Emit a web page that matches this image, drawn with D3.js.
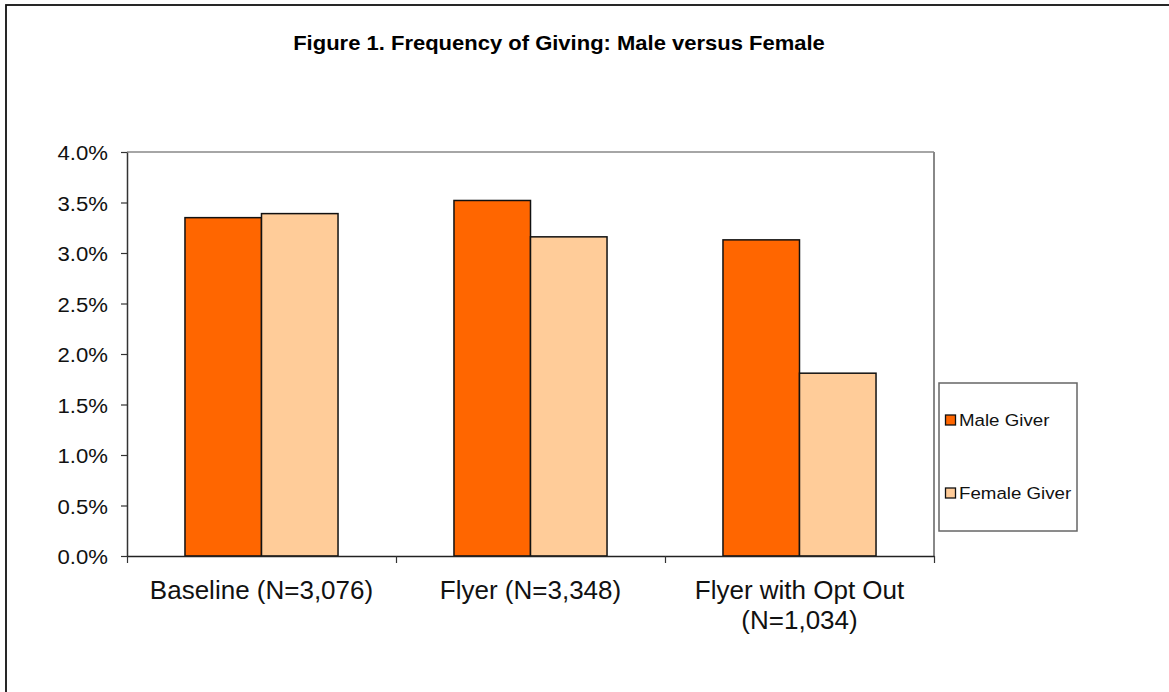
<!DOCTYPE html>
<html><head><meta charset="utf-8">
<script src="https://cdn.jsdelivr.net/npm/d3@7"></script>
<style>html,body{margin:0;padding:0;background:#fff;}svg{display:block;font-family:"Liberation Sans",Arial,sans-serif;}</style>
</head><body>
<script>
const categories = [["Baseline (N=3,076)"], ["Flyer (N=3,348)"], ["Flyer with Opt Out", "(N=1,034)"]];
const seriesNames = ["Male Giver", "Female Giver"];
const maleValues = [3.35, 3.52, 3.13];
const femaleValues = [3.39, 3.16, 1.81];
const yTicks = [0, 0.5, 1.0, 1.5, 2.0, 2.5, 3.0, 3.5, 4.0];
const title = "Figure 1. Frequency of Giving: Male versus Female";
const colors = ["#FF6600", "#FFCC99"];

const W = 1169, H = 692;
const svg = d3.select("body").append("svg").attr("width", W).attr("height", H);
svg.append("rect").attr("width", W).attr("height", H).attr("fill", "#fff");
// outer chart border
svg.append("rect").attr("x", 6).attr("y", 5).attr("width", W + 20).attr("height", H + 20)
  .attr("fill", "none").attr("stroke", "#111").attr("stroke-width", 1.8);

const L = 127, R = 934, T = 152, B = 556;
const x0 = d3.scaleBand().domain(d3.range(categories.length)).range([L, R]).paddingInner(0.431).paddingOuter(0.2155);
const x1 = d3.scaleBand().domain(d3.range(seriesNames.length)).range([0, x0.bandwidth()]);
const y = d3.scaleLinear().domain([0, 4]).range([B, T]);

function stext(g, x, yy, sx, txt) {
  return g.append("text").attr("transform", `translate(${x},${yy}) scale(${sx},1)`).text(txt);
}

// title
stext(svg, 559, 50, 1.1, title).attr("text-anchor", "middle").attr("font-weight", "bold")
  .attr("font-size", 20).attr("fill", "#000");

// plot area frame (top and right)
svg.append("line").attr("x1", L).attr("x2", R).attr("y1", T).attr("y2", T).attr("stroke", "#888").attr("stroke-width", 1.5);
svg.append("line").attr("x1", R).attr("x2", R).attr("y1", T).attr("y2", B).attr("stroke", "#888").attr("stroke-width", 2);

// bars
const data = categories.map((c, i) => [maleValues[i], femaleValues[i]]);
const groups = svg.append("g").selectAll("g").data(data).join("g")
  .attr("transform", (d, i) => `translate(${x0(i)},0)`);
groups.selectAll("rect").data(d => d).join("rect")
  .attr("x", (d, j) => x1(j)).attr("width", x1.bandwidth())
  .attr("y", d => y(d)).attr("height", d => B - y(d))
  .attr("fill", (d, j) => colors[j]).attr("stroke", "#111").attr("stroke-width", 1.5);

// y axis
const yAxis = svg.append("g").attr("transform", `translate(${L},0)`)
  .call(d3.axisLeft(y).tickValues(yTicks).tickSize(6).tickSizeOuter(0).tickFormat(""));
yAxis.select(".domain").attr("stroke", "#333").attr("stroke-width", 1.5);
yAxis.selectAll(".tick line").attr("stroke", "#333").attr("stroke-width", 1.2);
yTicks.forEach(t => {
  stext(svg, 108, y(t) + 8, 1.08, d3.format(".1f")(t) + "%").attr("text-anchor", "end")
    .attr("font-size", 20.5).attr("fill", "#111");
});

// x axis (ticks at category boundaries)
const xAxisScale = d3.scaleLinear().domain([0, categories.length]).range([L, R]);
const xAxis = svg.append("g").attr("transform", `translate(0,${B})`)
  .call(d3.axisBottom(xAxisScale).tickValues(d3.range(categories.length + 1)).tickSize(7).tickSizeOuter(0).tickFormat(""));
xAxis.select(".domain").attr("stroke", "#222").attr("stroke-width", 1.5);
xAxis.selectAll(".tick line").attr("stroke", "#333").attr("stroke-width", 1.2);
categories.forEach((lines, i) => {
  const cx = x0(i) + x0.bandwidth() / 2;
  lines.forEach((ln, k) => {
    stext(svg, cx, 599 + k * 30, 1.04, ln).attr("text-anchor", "middle")
      .attr("font-size", 25).attr("fill", "#111");
  });
});

// legend
const lg = svg.append("g");
lg.append("rect").attr("x", 939).attr("y", 383).attr("width", 138).attr("height", 148)
  .attr("fill", "#fff").attr("stroke", "#666").attr("stroke-width", 1.5);
const legendY = [420, 493];
seriesNames.forEach((s, j) => {
  lg.append("rect").attr("x", 945.5).attr("y", legendY[j] - 5).attr("width", 10).attr("height", 10)
    .attr("fill", colors[j]).attr("stroke", "#111").attr("stroke-width", 1.3);
  stext(lg, 959, legendY[j] + 6, 1.1, s).attr("font-size", 17).attr("fill", "#111");
});
</script>
</body></html>
